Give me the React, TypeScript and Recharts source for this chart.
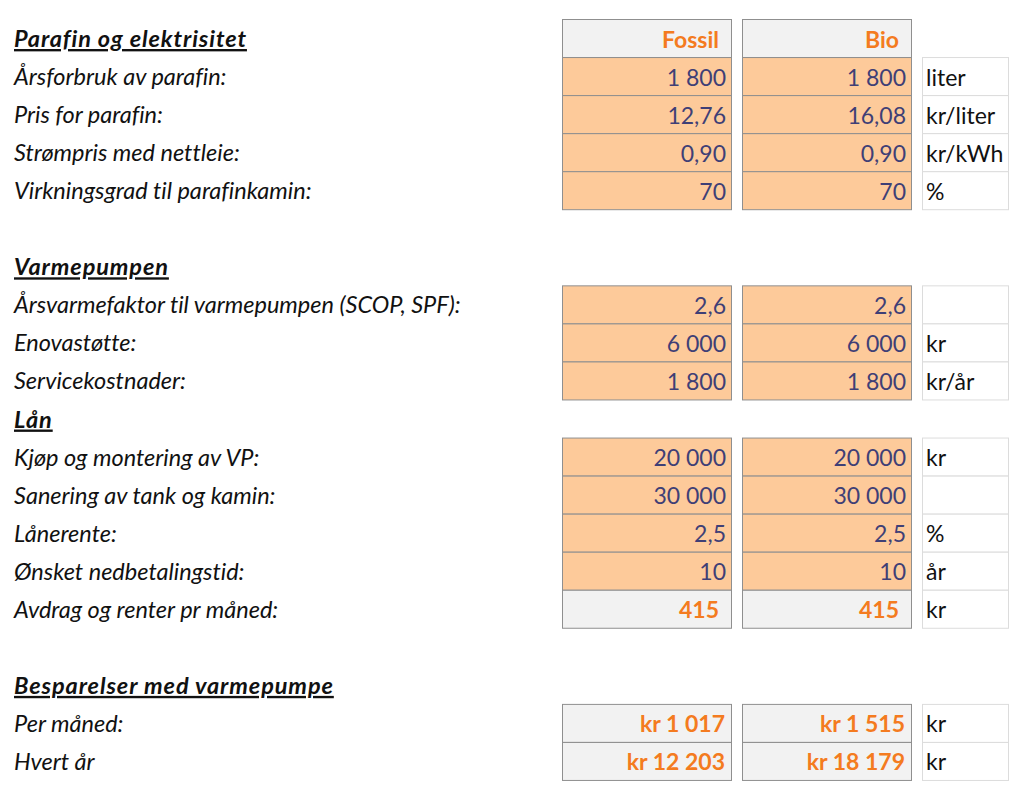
import React from "react";
import { ComposedChart, Bar, XAxis, YAxis } from "recharts";

// ---- data ----
const rowLabels: string[] = [
  "Parafin og elektrisitet",
  "Årsforbruk av parafin:",
  "Pris for parafin:",
  "Strømpris med nettleie:",
  "Virkningsgrad til parafinkamin:",
  " ",
  "Varmepumpen",
  "Årsvarmefaktor til varmepumpen (SCOP, SPF):",
  "Enovastøtte:",
  "Servicekostnader:",
  "Lån",
  "Kjøp og montering av VP:",
  "Sanering av tank og kamin:",
  "Lånerente:",
  "Ønsket nedbetalingstid:",
  "Avdrag og renter pr måned:",
  "  ",
  "Besparelser med varmepumpe",
  "Per måned:",
  "Hvert år",
];

const seriesNames: string[] = ["Fossil", "Bio"];

const fossilValues: (number | null)[] = [
  null, 1800, 12.76, 0.9, 70, null, null, 2.6, 6000, 1800, null, 20000, 30000, 2.5, 10, 415, null, null, 1017, 12203,
];
const bioValues: (number | null)[] = [
  null, 1800, 16.08, 0.9, 70, null, null, 2.6, 6000, 1800, null, 20000, 30000, 2.5, 10, 415, null, null, 1515, 18179,
];
const decimals: number[] = [0, 0, 2, 2, 0, 0, 0, 1, 0, 0, 0, 0, 0, 1, 0, 0, 0, 0, 0, 0];
const units: (string | null)[] = [
  null, "liter", "kr/liter", "kr/kWh", "%", null, null, "", "kr", "kr/år", null, "kr", "", "%", "år", "kr", null, null, "kr", "kr",
];
// semantic role of each row
const rowKinds: string[] = [
  "header", "input", "input", "input", "input", "blank", "section", "input", "input", "input", "section",
  "input", "input", "input", "input", "result", "blank", "section", "currency", "currency",
];

const rows = rowLabels.map((label, i) => ({
  label,
  fossil: fossilValues[i],
  bio: bioValues[i],
  dec: decimals[i],
  unit: units[i],
  kind: rowKinds[i],
}));

// ---- styling / layout ----
const FONT = "Lato, 'Open Sans', sans-serif";
const FS = 23;
const LFS = 23.5;
const ORANGE = "#F47B20";
const INPUT_FILL = "#FDCA9A";
const INPUT_TEXT = "#3F3F76";
const OUT_FILL = "#F2F2F2";
const BORDER = "#8F8F8F";
const GRID = "#DCDCDC";
const NOLIG: React.CSSProperties = { fontVariantLigatures: "none", fontFeatureSettings: '"liga" 0, "clig" 0' };

const COLS = [
  { x: 554, w: 169 },
  { x: 734, w: 169 },
];
const UNIT_COL = { x: 914, w: 86 };

function fmt(v: number, dec: number): string {
  const s = v.toFixed(dec);
  const [int, frac] = s.split(".");
  const grouped = int.replace(/\B(?=(\d{3})+(?!\d))/g, " ");
  return frac ? `${grouped},${frac}` : grouped;
}

const RowCells = (props: any) => {
  const { y, height, payload } = props;
  const r = payload;
  const top = y;
  const h = height;
  const base = top + h / 2 + 9.5;
  const out: React.ReactNode[] = [];
  const vals = [r.fossil, r.bio];
  COLS.forEach((c, ci) => {
    let text: string | null = null;
    let fill = INPUT_FILL;
    let color = INPUT_TEXT;
    let weight = 400;
    let pad = 5;
    if (r.kind === "header") {
      text = seriesNames[ci];
      fill = OUT_FILL;
      color = ORANGE;
      weight = 700;
      pad = 12;
    } else if (vals[ci] != null) {
      const v = vals[ci] as number;
      if (r.kind === "result" || r.kind === "currency") {
        fill = OUT_FILL;
        color = ORANGE;
        weight = 700;
        pad = r.kind === "currency" ? 6 : 12;
        text = r.kind === "currency" ? `kr ${fmt(v, r.dec)}` : fmt(v, r.dec);
      } else {
        text = fmt(v, r.dec);
      }
    }
    if (text == null) return;
    out.push(
      <rect key={`r${ci}`} x={c.x + 0.5} y={top + 0.5} width={c.w} height={h} fill={fill} stroke={BORDER} strokeWidth={1} />
    );
    out.push(
      <text
        key={`t${ci}`}
        x={c.x + c.w - pad}
        y={base}
        textAnchor="end"
        fontFamily={FONT}
        fontSize={FS}
        fontWeight={weight}
        fill={color}
        style={NOLIG}
      >
        {text}
      </text>
    );
  });
  if (r.unit != null) {
    out.push(
      <rect key="ur" x={UNIT_COL.x + 0.5} y={top + 0.5} width={UNIT_COL.w} height={h} fill="#FFFFFF" stroke={GRID} strokeWidth={1} />
    );
    out.push(
      <text key="ut" x={UNIT_COL.x + 4} y={base} fontFamily={FONT} fontSize={FS} fill="#111111" style={NOLIG}>
        {r.unit}
      </text>
    );
  }
  return <g>{out}</g>;
};

const LabelTick = (props: any) => {
  const { y, payload, index } = props;
  const kind = rowKinds[index];
  const label = String(payload.value).trim();
  if (!label) return null;
  const isHead = kind === "section" || kind === "header";
  return (
    <text
      x={6}
      y={y + 9}
      textAnchor="start"
      fontFamily={FONT}
      fontSize={LFS}
      fontStyle="italic"
      fontWeight={isHead ? 700 : 400}
      letterSpacing={isHead ? 0.9 : 0}
      fill="#111111"
      style={isHead ? { ...NOLIG, textDecoration: "underline" } : NOLIG}
    >
      {label}
    </text>
  );
};

export default function App() {
  return (
    <div style={{ width: 1016, height: 787, background: "#FFFFFF" }}>
      <ComposedChart
        width={1016}
        height={787}
        data={rows}
        layout="vertical"
        margin={{ top: 11, right: 0, bottom: 15, left: 0 }}
        barCategoryGap={0}
        barGap={0}
      >
        <XAxis type="number" domain={[0, 1]} hide />
        <YAxis
          type="category"
          dataKey="label"
          width={1}
          axisLine={false}
          tickLine={false}
          interval={0}
          tick={<LabelTick />}
        />
        <Bar dataKey={() => 1} isAnimationActive={false} shape={<RowCells />} />
      </ComposedChart>
    </div>
  );
}
